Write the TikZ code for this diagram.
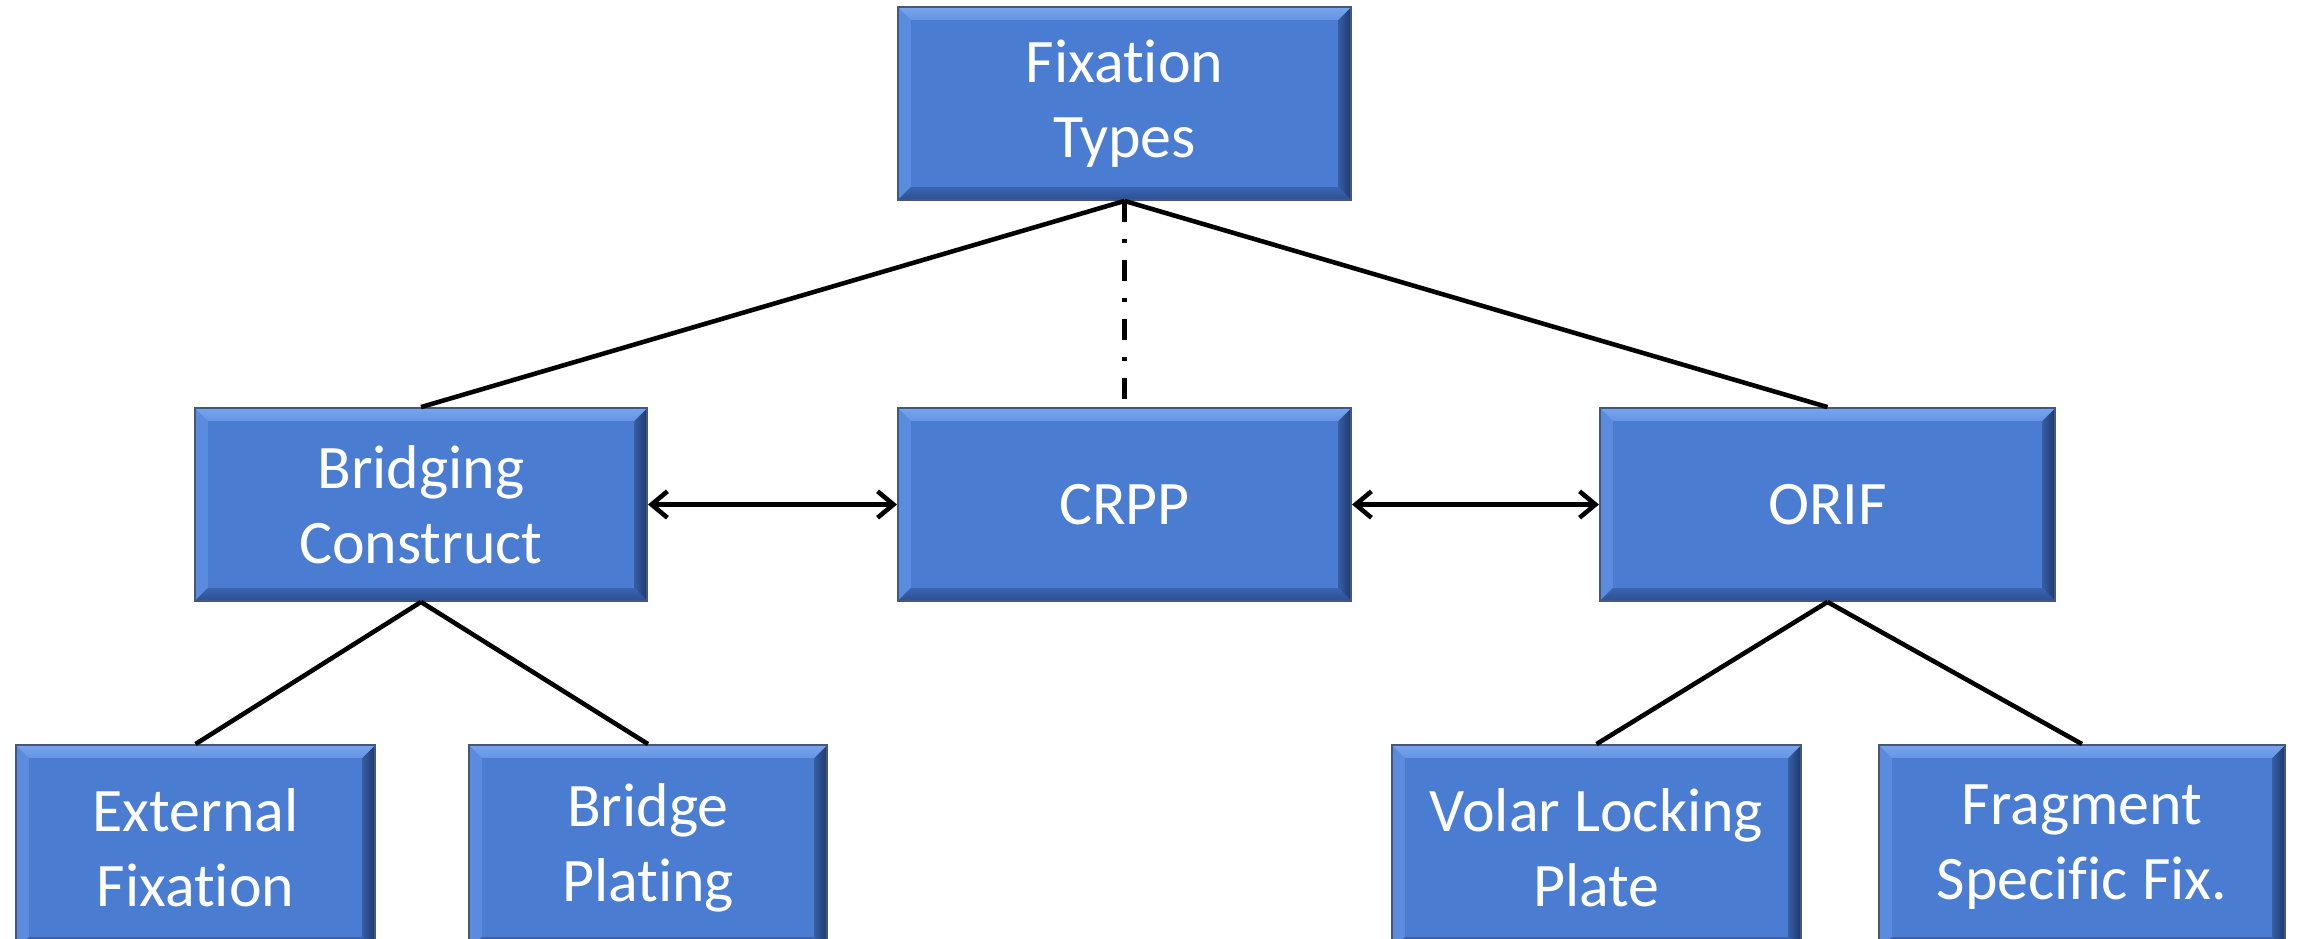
\documentclass[tikz,border=0pt]{standalone}
\usepackage{fontspec}
\setmainfont{Carlito}[Ligatures={NoCommon}]
\usetikzlibrary{arrows.meta}
\definecolor{boxblue}{RGB}{74,125,209}
\definecolor{bevtop}{RGB}{120,164,240}
\definecolor{bevleft}{RGB}{90,139,222}
\definecolor{bevright}{RGB}{30,56,108}
\definecolor{bevbot}{RGB}{44,80,148}
\definecolor{boxedge}{RGB}{70,88,120}
\newcommand\bevw{0.13cm}
\tikzset{
  bevelbox/.style={rectangle, fill=boxblue, draw=boxedge, line width=0.5pt,
    minimum width=#1, minimum height=1.93cm, inner sep=0pt,
    text=white, align=center, font=\fontsize{17.6}{21.3}\selectfont,
    path picture={
      % left face
      \fill[bevleft] (path picture bounding box.north west)
        -- ([shift={(\bevw,-\bevw)}]path picture bounding box.north west)
        -- ([shift={(\bevw,\bevw)}]path picture bounding box.south west)
        -- (path picture bounding box.south west) -- cycle;
      % right face
      \shade[left color=bevright!45!boxblue, right color=bevright]
        (path picture bounding box.north east)
        -- ([shift={(-\bevw,-\bevw)}]path picture bounding box.north east)
        -- ([shift={(-\bevw,\bevw)}]path picture bounding box.south east)
        -- (path picture bounding box.south east) -- cycle;
      % top face
      \shade[top color=bevtop, bottom color=bevtop!60!boxblue]
        (path picture bounding box.north west)
        -- (path picture bounding box.north east)
        -- ([shift={(-\bevw,-\bevw)}]path picture bounding box.north east)
        -- ([shift={(\bevw,-\bevw)}]path picture bounding box.north west) -- cycle;
      % bottom face
      \shade[top color=bevbot!55!boxblue, bottom color=bevbot]
        (path picture bounding box.south west)
        -- (path picture bounding box.south east)
        -- ([shift={(-\bevw,\bevw)}]path picture bounding box.south east)
        -- ([shift={(\bevw,\bevw)}]path picture bounding box.south west) -- cycle;
    }},
  bevelbox/.default=4.53cm,
  lowbox/.style={bevelbox=#1, minimum height=2.05cm},
  conn/.style={draw=black, line width=1.3pt},
  twoway/.style={conn, {Straight Barb[length=4.5pt,width=7.5pt]}-{Straight Barb[length=4.5pt,width=7.5pt]}},
  altlink/.style={conn, dash pattern=on 6pt off 4.8pt on 1.2pt off 4.8pt}
}
\begin{document}
\begin{tikzpicture}[x=0.01cm, y=-0.01cm]
  \useasboundingbox (0,0) rectangle (2300,938);
  \clip (0,0) rectangle (2300,938);

  % top level
  \node[bevelbox] (ft) at (1124.5,103.5) {Fixation\\Types};

  % middle row
  \node[bevelbox=4.52cm] (bc) at (421,504.5) {Bridging\\Construct};
  \node[bevelbox] (crpp) at (1124.5,504.5) {CRPP};
  \node[bevelbox=4.55cm] (orif) at (1827.5,504.5) {ORIF};

  % bottom row
  \node[lowbox=3.59cm] (ef) at (195.5,847.5) {External\\Fixation};
  \node[lowbox=3.58cm] (bp) at (648,847.5) {Bridge\\Plating};
  \node[lowbox=4.09cm] (vlp) at (1596.5,847.5) {Volar Locking\\Plate};
  \node[lowbox=4.06cm] (fsf) at (2082,847.5) {Fragment\\Specific Fix.};

  % hierarchy links
  \draw[conn] (ft.south) -- (bc.north);
  \draw[conn] (ft.south) -- (orif.north);
  \draw[altlink] (ft.south) -- (crpp.north);
  \draw[conn] (bc.south) -- (ef.north);
  \draw[conn] (bc.south) -- (bp.north);
  \draw[conn] (orif.south) -- (vlp.north);
  \draw[conn] (orif.south) -- (fsf.north);

  % lateral links
  \draw[twoway] (bc.east) -- (crpp.west);
  \draw[twoway] (crpp.east) -- (orif.west);
\end{tikzpicture}
\end{document}
